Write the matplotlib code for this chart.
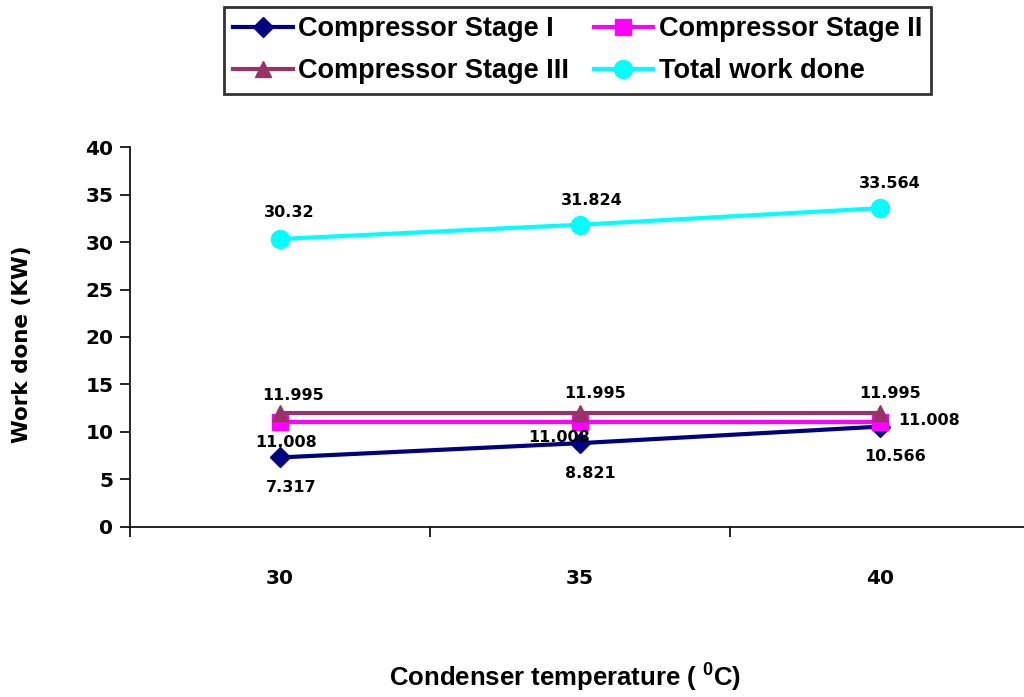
import matplotlib
matplotlib.use("Agg")
import matplotlib.pyplot as plt
import numpy as np

plt.rcParams["mathtext.fontset"] = "custom"
plt.rcParams["mathtext.bf"] = "Liberation Sans:bold"
plt.rcParams["mathtext.rm"] = "Liberation Sans:bold"

temps = ["30", "35", "40"]
stage1 = [7.317, 8.821, 10.566]
stage2 = [11.008, 11.008, 11.008]
stage3 = [11.995, 11.995, 11.995]
total = [30.32, 31.824, 33.564]

x = np.arange(1, len(temps) + 1)

fig = plt.figure(figsize=(10.24, 6.97), dpi=100)
ax = fig.add_axes([0.127, 0.244, 0.879, 0.545])

l1, = ax.plot(x, stage1, color="#000080", lw=3, marker="D", ms=10, label="Compressor Stage I")
l2, = ax.plot(x, stage2, color="#FF00FF", lw=3, marker="s", ms=11, label="Compressor Stage II")
l3, = ax.plot(x, stage3, color="#993366", lw=3, marker="^", ms=11, label="Compressor Stage III")
l4, = ax.plot(x, total, color="#00FFFF", lw=3, marker="o", ms=13, label="Total work done")

lab = dict(fontsize=11.5, fontweight="bold", family="DejaVu Sans", ha="center", va="center",
           textcoords="offset pixels")

def labels(vals, offs):
    for xi, v, (dx, dy) in zip(x, vals, offs):
        ax.annotate(f"{v:g}", (xi, v), xytext=(dx, dy), **lab)

labels(total, [(9, 26), (12, 24), (10, 25)])
labels(stage3, [(13, 18), (15, 20), (10, 20)])
labels(stage2, [(6, -20), (-21, -15), (49, 2)])
labels(stage1, [(11, -30), (10, -30), (15, -30)])

ax.set_xlim(0.5, 3.5)
ax.set_ylim(0, 40)
ax.set_yticks(np.arange(0, 41, 5))
ax.set_xticks(x)
ax.set_xticklabels(temps)
ax.set_xticks([0.5, 1.5, 2.5, 3.5], minor=True)
ax.tick_params(axis="x", which="major", length=0, pad=30, labelsize=14.5)
ax.tick_params(axis="x", which="minor", length=7, direction="out", width=1.2)
ax.tick_params(axis="y", length=7, direction="out", width=1.2, labelsize=14.5, pad=5)
for t in ax.get_xticklabels() + ax.get_yticklabels():
    t.set_fontweight("bold")
ax.spines["top"].set_visible(False)
ax.spines["right"].set_visible(False)
ax.spines["left"].set_linewidth(1.2)
ax.spines["bottom"].set_linewidth(1.2)

ax.set_ylabel("Work done (KW)", fontsize=15.5, fontweight="bold", va="center")
ax.yaxis.set_label_coords(-0.12, 0.48)
fig.text(0.552, 0.029, "Condenser temperature ( $^{\\mathbf{0}}$C)", ha="center", va="center",
         fontsize=18.5, fontweight="bold", family="Liberation Sans")

leg = fig.legend(handles=[l1, l3, l2, l4], loc="center", bbox_to_anchor=(0.564, 0.928),
                 ncol=2, frameon=True, fancybox=False, edgecolor="black",
                 prop={"family": "Liberation Sans", "weight": "bold", "size": 19.5},
                 handlelength=2.2, handletextpad=0.2, columnspacing=0.9, labelspacing=0.6,
                 borderpad=0.35, borderaxespad=0)
leg.get_frame().set_linewidth(2)

fig.savefig("out.png", dpi=100)
